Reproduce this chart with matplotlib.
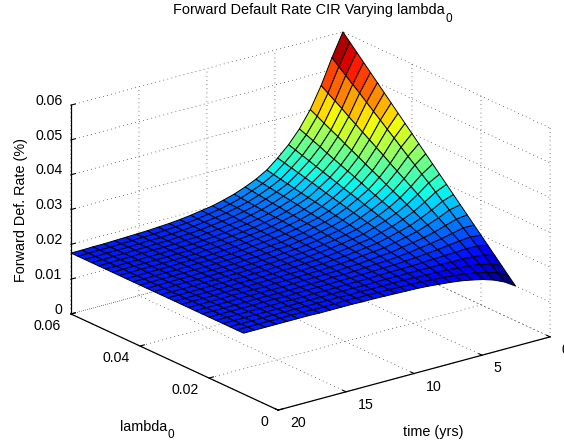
import numpy as np
import matplotlib
matplotlib.use('Agg')
import matplotlib.pyplot as plt
from matplotlib import cm

plt.rcParams['font.family'] = ['Liberation Sans', 'DejaVu Sans']

# time grid (yrs) and lambda_0 grid
time_yrs = [0.0, 0.8, 1.6, 2.4, 3.2, 4.0, 4.8, 5.6, 6.4, 7.2, 8.0, 8.8, 9.6,
            10.4, 11.2, 12.0, 12.8, 13.6, 14.4, 15.2, 16.0, 16.8, 17.6, 18.4, 19.2, 20.0]
lambda0 = [0.010, 0.012, 0.014, 0.016, 0.018, 0.020, 0.022, 0.024, 0.026, 0.028, 0.030, 0.032, 0.034,
           0.036, 0.038, 0.040, 0.042, 0.044, 0.046, 0.048, 0.050, 0.052, 0.054, 0.056, 0.058, 0.060]

# forward default rate, in units of 1e-4; one row per time, one column per lambda_0
fwd_rate = [
    [100, 120, 140, 160, 180, 200, 220, 240, 260, 280, 300, 320, 340, 360, 380, 400, 420, 440, 460, 480, 500, 520, 540, 560, 580, 600],
    [120, 137, 153, 170, 186, 203, 220, 236, 253, 269, 286, 303, 319, 336, 352, 369, 386, 402, 419, 435, 452, 469, 485, 502, 518, 535],
    [134, 147, 160, 173, 187, 200, 213, 226, 239, 252, 266, 279, 292, 305, 318, 331, 345, 358, 371, 384, 397, 410, 424, 437, 450, 463],
    [144, 154, 165, 175, 185, 196, 206, 216, 227, 237, 247, 258, 268, 278, 288, 299, 309, 319, 330, 340, 350, 361, 371, 381, 392, 402],
    [151, 159, 167, 175, 184, 192, 200, 208, 216, 224, 233, 241, 249, 257, 265, 273, 282, 290, 298, 306, 314, 322, 331, 339, 347, 355],
    [157, 163, 170, 176, 183, 189, 196, 202, 209, 215, 221, 228, 234, 241, 247, 254, 260, 266, 273, 279, 286, 292, 299, 305, 312, 318],
    [161, 166, 171, 176, 181, 186, 191, 197, 202, 207, 212, 217, 222, 227, 232, 237, 242, 247, 252, 258, 263, 268, 273, 278, 283, 288],
    [164, 168, 172, 176, 180, 184, 188, 191, 195, 199, 203, 207, 211, 215, 219, 223, 227, 231, 235, 238, 242, 246, 250, 254, 258, 262],
    [167, 170, 173, 176, 179, 182, 185, 189, 192, 195, 198, 201, 204, 207, 210, 213, 216, 219, 222, 226, 229, 232, 235, 238, 241, 244],
    [169, 171, 174, 176, 179, 181, 184, 186, 189, 191, 193, 196, 198, 201, 203, 206, 208, 210, 213, 215, 218, 220, 223, 225, 228, 230],
    [170, 172, 174, 176, 178, 180, 182, 183, 185, 187, 189, 191, 193, 195, 197, 199, 201, 203, 205, 206, 208, 210, 212, 214, 216, 218],
    [171, 173, 174, 176, 177, 179, 180, 182, 183, 185, 186, 188, 189, 191, 192, 194, 195, 197, 198, 200, 201, 203, 204, 206, 207, 209],
    [172, 173, 174, 175, 177, 178, 179, 180, 181, 182, 184, 185, 186, 187, 188, 189, 191, 192, 193, 194, 195, 196, 198, 199, 200, 201],
    [173, 174, 175, 176, 177, 178, 179, 179, 180, 181, 182, 183, 184, 185, 186, 187, 188, 189, 190, 190, 191, 192, 193, 194, 195, 196],
    [173, 174, 174, 175, 176, 177, 177, 178, 179, 179, 180, 181, 182, 182, 183, 184, 185, 185, 186, 187, 187, 188, 189, 190, 190, 191],
    [174, 175, 175, 176, 176, 177, 177, 178, 178, 179, 179, 180, 180, 181, 181, 182, 182, 183, 183, 184, 184, 185, 185, 186, 186, 187],
    [174, 174, 175, 175, 176, 176, 176, 177, 177, 178, 178, 178, 179, 179, 180, 180, 180, 181, 181, 182, 182, 182, 183, 183, 184, 184],
    [174, 174, 175, 175, 175, 176, 176, 176, 177, 177, 177, 178, 178, 178, 178, 179, 179, 179, 180, 180, 180, 181, 181, 181, 182, 182],
    [174, 174, 175, 175, 175, 175, 175, 176, 176, 176, 176, 177, 177, 177, 177, 178, 178, 178, 178, 178, 179, 179, 179, 179, 180, 180],
    [175, 175, 175, 175, 176, 176, 176, 176, 176, 176, 177, 177, 177, 177, 177, 177, 178, 178, 178, 178, 178, 178, 179, 179, 179, 179],
    [175, 175, 175, 175, 175, 176, 176, 176, 176, 176, 176, 176, 176, 177, 177, 177, 177, 177, 177, 177, 177, 178, 178, 178, 178, 178],
    [175, 175, 175, 175, 175, 175, 175, 176, 176, 176, 176, 176, 176, 176, 176, 176, 176, 176, 176, 177, 177, 177, 177, 177, 177, 177],
    [175, 175, 175, 175, 175, 175, 175, 175, 175, 175, 175, 175, 175, 176, 176, 176, 176, 176, 176, 176, 176, 176, 176, 176, 176, 176],
    [175, 175, 175, 175, 175, 175, 175, 175, 175, 175, 175, 175, 175, 176, 176, 176, 176, 176, 176, 176, 176, 176, 176, 176, 176, 176],
    [175, 175, 175, 175, 175, 175, 175, 175, 175, 175, 175, 175, 175, 175, 175, 175, 175, 175, 175, 175, 175, 175, 175, 175, 175, 175],
    [175, 175, 175, 175, 175, 175, 175, 175, 175, 175, 175, 175, 175, 175, 175, 175, 175, 175, 175, 175, 175, 175, 175, 175, 175, 175],
]

time_ticks = [0, 5, 10, 15, 20]
lambda_ticks = [0, 0.02, 0.04, 0.06]
lambda_ticklabels = ['0', '0.02', '0.04', '0.06']
rate_ticks = [0, 0.01, 0.02, 0.03, 0.04, 0.05, 0.06]
rate_ticklabels = ['0', '0.01', '0.02', '0.03', '0.04', '0.05', '0.06']

T, L = np.meshgrid(time_yrs, lambda0, indexing='ij')
Z = np.array(fwd_rate) * 1e-4

fig = plt.figure(figsize=(5.64, 4.44), dpi=100)
ax = fig.add_axes([0.0798, -0.0957, 0.9167, 1.1644], projection='3d', proj_type='ortho')
ax.set_box_aspect((1, 1, 0.653))
ax.view_init(elev=20.7, azim=-127.3)

# flat faces take the colour of their first corner, as in MATLAB surf
norm = plt.Normalize(Z.min(), Z.max())
face_colors = cm.jet(norm(Z[:-1, :-1]))
surf = ax.plot_surface(T, L, Z, rstride=1, cstride=1, facecolors=face_colors, shade=False)
surf.set_edgecolor('k')
surf.set_linewidth(0.7)

ax.set_xlim(20, 0, view_margin=0)
ax.set_ylim(0, 0.06, view_margin=0)
ax.set_zlim(0, 0.06, view_margin=0)

ax.set_xticks(time_ticks)
ax.set_yticks(lambda_ticks)
ax.set_yticklabels(lambda_ticklabels)
ax.set_zticks(rate_ticks)
ax.set_zticklabels(rate_ticklabels)
ax.tick_params(labelsize=10.2, colors='k')
ax.xaxis.set_tick_params(pad=3)
ax.yaxis.set_tick_params(pad=-1)
ax.zaxis.set_tick_params(pad=-4.5)

for lab in ax.xaxis.get_ticklabels():
    lab.set_ha('left')
    lab.set_va('baseline')
for lab in ax.yaxis.get_ticklabels():
    lab.set_ha('right')
    lab.set_va('center_baseline')
for lab in ax.zaxis.get_ticklabels():
    lab.set_ha('right')
    lab.set_va('baseline')

for axis in (ax.xaxis, ax.yaxis, ax.zaxis):
    axis.set_pane_color((1, 1, 1, 0))
    axis.pane.set_edgecolor((1, 1, 1, 0))
    axis._axinfo['grid'].update(color='k', linestyle=(0, (1, 5)), linewidth=0.5)
    axis._axinfo['tick'].update(inward_factor=0.0, outward_factor=0.2)
    axis.line.set_color('k')
    axis.line.set_linewidth(0.9)


def px_text(x, y, s, size=10.4, **kw):
    # labels are placed by their baseline, in picture pixels from the top left
    fig.text(x / 564, 1 - y / 444, s, fontsize=size, va='baseline', **kw)


px_text(173, 14, 'Forward Default Rate CIR Varying lambda', size=10.45)
px_text(446, 22, '0', size=8.5)
fig.text(0.037, 0.527, 'Forward Def. Rate (%)', rotation=90, ha='center', va='center', fontsize=10.4)
px_text(120, 431, 'lambda')
px_text(167, 438, '0', size=8.5)
px_text(403, 436, 'time (yrs)')

fig.savefig('out.png', dpi=100)
